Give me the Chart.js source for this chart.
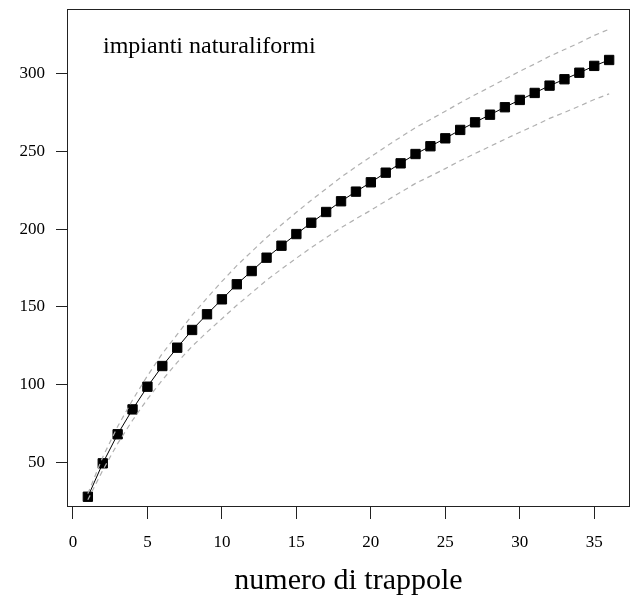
<!DOCTYPE html>
<html>
<head>
<meta charset="utf-8">
<script src="https://cdn.jsdelivr.net/npm/chart.js@4"></script>
<style>
    html, body { margin: 0; padding: 0; background: #fff; overflow: hidden; }
    canvas { display: block; }
</style>
</head>
<body>
<canvas id="curve" width="634" height="602"></canvas>
<script>
// Species accumulation curve with its band

const trapNumbers = [1, 2, 3, 4, 5, 6, 7, 8, 9, 10, 11, 12, 13, 14, 15, 16, 17, 18,
    19, 20, 21, 22, 23, 24, 25, 26, 27, 28, 29, 30, 31, 32, 33, 34, 35, 36];

const meanRichness = [27.8, 49.3, 68.0, 84.0, 98.6, 111.9, 123.7, 135.1, 145.2, 154.8,
    164.5, 173.0, 181.6, 189.3, 196.8, 204.1, 211.0, 217.9, 224.1, 230.1, 236.3, 242.3,
    248.3, 253.3, 258.4, 263.8, 268.7, 273.6, 278.4, 283.1, 287.6, 292.3, 296.4, 300.6,
    305.0, 308.8];

const upperBand = [29.8, 53.3, 73.0, 90.0, 105.6, 119.9, 132.2, 144.6, 155.7, 166.3,
    176.5, 185.5, 194.6, 202.8, 210.8, 218.6, 226.0, 233.4, 240.1, 246.6, 253.0, 259.2,
    265.3, 270.5, 275.8, 281.3, 286.4, 291.4, 296.5, 301.5, 306.2, 311.2, 315.5, 319.9,
    324.6, 328.6];

const lowerBand = [25.8, 44.8, 62.0, 77.0, 90.6, 102.9, 114.2, 124.6, 133.7, 142.3,
    151.0, 159.0, 167.1, 174.3, 181.3, 188.1, 194.5, 200.9, 206.6, 212.1, 218.0, 223.7,
    229.4, 234.1, 238.9, 244.0, 248.6, 253.2, 257.8, 262.3, 266.6, 271.2, 275.1, 279.1,
    283.4, 287.0];

const xTicks = [0, 5, 10, 15, 20, 25, 30, 35];
const yTicks = [50, 100, 150, 200, 250, 300];

const panelLabel = 'impianti naturaliformi';
const xTitle = 'numero di trappole';

const serif = "'Liberation Serif', 'DejaVu Serif', serif";

function toPoints(values) {
    return trapNumbers.map((n, i) => ({ x: n, y: values[i] }));
}

function bandDataset(values) {
    return {
        data: toPoints(values),
        borderColor: '#b0b0b0',
        borderDash: [5, 4],
        borderWidth: 1.2,
        pointRadius: 0,
        fill: false,
        tension: 0
    };
}

// keep the plot region fixed: no extra room for overflowing tick labels
function clearPadding(scale) {
    scale.paddingTop = 0;
    scale.paddingBottom = 0;
    scale.paddingLeft = 0;
    scale.paddingRight = 0;
}

// R-style box around the plot region plus the panel label
const boxPlugin = {
    id: 'plotBox',
    afterDraw(chart) {
        const { ctx, chartArea } = chart;
        ctx.save();
        ctx.strokeStyle = '#222';
        ctx.lineWidth = 1;
        ctx.strokeRect(chartArea.left + 0.5, chartArea.top + 0.5,
            chartArea.right - chartArea.left - 1, chartArea.bottom - chartArea.top - 1);
        ctx.fillStyle = '#000';
        ctx.font = '24px ' + serif;
        ctx.textBaseline = 'alphabetic';
        ctx.fillText(panelLabel, chartArea.left + 36, chartArea.top + 44);
        ctx.restore();
    }
};

const ctx = document.getElementById('curve').getContext('2d');
new Chart(ctx, {
    type: 'line',
    data: {
        datasets: [
            bandDataset(upperBand),
            bandDataset(lowerBand),
            {
                data: toPoints(meanRichness),
                borderColor: '#000',
                borderWidth: 1,
                pointStyle: 'rect',
                pointRadius: 6.6,
                pointBorderWidth: 1,
                pointBackgroundColor: '#000',
                pointBorderColor: '#000',
                fill: false,
                tension: 0
            }
        ]
    },
    options: {
        responsive: false,
        animation: false,
        layout: {
            autoPadding: false,
            padding: { top: 9, right: 4, left: 0, bottom: 0 }
        },
        plugins: {
            legend: { display: false },
            tooltip: { enabled: false }
        },
        scales: {
            x: {
                type: 'linear',
                min: -0.4,
                max: 37.4,
                afterBuildTicks: (scale) => {
                    scale.ticks = xTicks.map(v => ({ value: v }));
                },
                afterFit: (scale) => {
                    scale.height = 95;
                    clearPadding(scale);
                },
                grid: {
                    drawOnChartArea: false,
                    color: '#222',
                    tickLength: 12
                },
                border: { display: false },
                ticks: {
                    color: '#000',
                    font: { family: serif, size: 17 },
                    padding: 13,
                    maxRotation: 0
                },
                title: {
                    display: true,
                    text: xTitle,
                    color: '#000',
                    font: { family: serif, size: 30 },
                    padding: { top: 0, bottom: 3 }
                }
            },
            y: {
                type: 'linear',
                min: 21.2,
                max: 341.6,
                afterBuildTicks: (scale) => {
                    scale.ticks = yTicks.map(v => ({ value: v }));
                },
                afterFit: (scale) => {
                    scale.width = 67;
                    clearPadding(scale);
                },
                grid: {
                    drawOnChartArea: false,
                    color: '#222',
                    tickLength: 11
                },
                border: { display: false },
                ticks: {
                    color: '#000',
                    font: { family: serif, size: 17 },
                    padding: 11
                }
            }
        }
    },
    plugins: [boxPlugin]
});
</script>
</body>
</html>
